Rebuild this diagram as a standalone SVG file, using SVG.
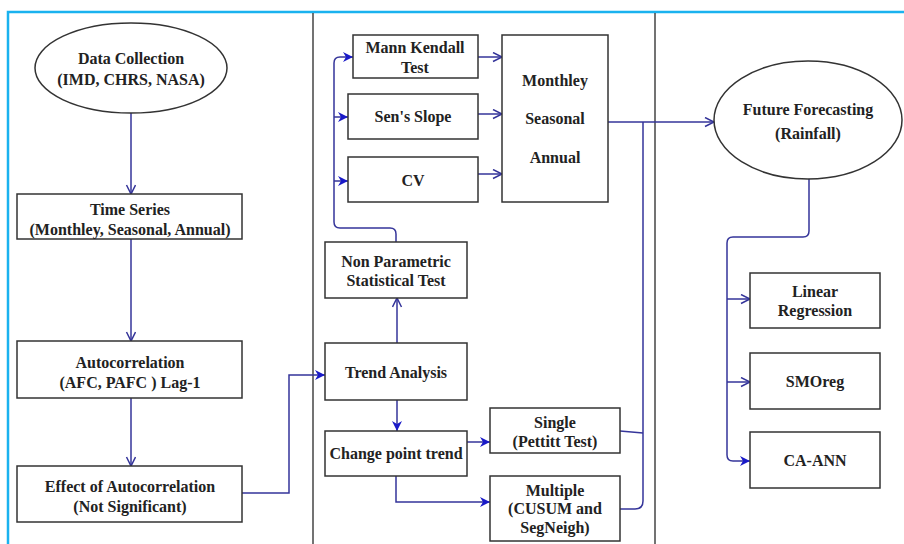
<svg xmlns="http://www.w3.org/2000/svg" width="904" height="544" viewBox="0 0 904 544">
<defs>
<style>
.n{fill:#fff;stroke:#333;stroke-width:1.5}
.t{font-family:"Liberation Serif","Times New Roman",serif;font-weight:bold;font-size:16px;fill:#222;text-anchor:middle}
.c{fill:none;stroke:#35359a;stroke-width:1.5}
.o{marker-end:url(#open)}
.f{marker-end:url(#fill)}
</style>
<marker id="open" markerUnits="userSpaceOnUse" markerWidth="12" markerHeight="12" refX="10" refY="5" orient="auto">
<path d="M1,0.5 L10,5 L1,9.5" fill="none" stroke="#35359a" stroke-width="1.5"/>
</marker>
<marker id="fill" markerUnits="userSpaceOnUse" markerWidth="12" markerHeight="12" refX="10" refY="5" orient="auto">
<path d="M0,0 L10,5 L0,10 L3,5 z" fill="#1a1ac8"/>
</marker>
</defs>
<rect width="904" height="544" fill="#fff"/>
<rect x="8" y="12" width="920" height="560" fill="none" stroke="#1ab2ef" stroke-width="2.5"/>
<line x1="313" y1="13" x2="313" y2="544" stroke="#444" stroke-width="1.5"/>
<line x1="655" y1="13" x2="655" y2="544" stroke="#444" stroke-width="1.5"/>

<g id="connectors">
<path class="c o" d="M131,113 V194"/>
<path class="c o" d="M131,239 V341"/>
<path class="c o" d="M131,398 V466"/>
<path class="c f" d="M242,493 H289 V375 H325"/>
<path class="c o" d="M397,343 V298"/>
<path class="c f" d="M396,242 V234 Q396,228 390,228 H340 Q334,228 334,222 V63 Q334,57 340,57 H353"/>
<path class="c f" d="M334,117 H348"/>
<path class="c f" d="M334,181 H348"/>
<path class="c o" d="M478,57 H502"/>
<path class="c o" d="M478,114 H502"/>
<path class="c o" d="M478,174 H502"/>
<path class="c o" d="M608,122 H714"/>
<path class="c" d="M620,509 H635 Q643,509 643,501 V122"/>
<path class="c" d="M620,431 L643,433"/>
<path class="c f" d="M397,400 V431"/>
<path class="c f" d="M467,442 H490"/>
<path class="c f" d="M396,476 V502 H490"/>
<path class="c f" d="M809,179 V231 Q809,237 803,237 H733 Q727,237 727,243 V455 Q727,461 733,461 H750"/>
<path class="c o" d="M727,299 H750"/>
<path class="c o" d="M727,382 H750"/>
</g>

<g id="data-collection">
<ellipse class="n" cx="131" cy="68" rx="96" ry="45"/>
<text class="t" x="131" y="64">Data Collection</text>
<text class="t" x="131" y="85">(IMD, CHRS, NASA)</text>
</g>
<g id="time-series">
<rect class="n" x="17" y="194" width="225" height="45"/>
<text class="t" x="130" y="215">Time Series</text>
<text class="t" x="130" y="235">(Monthley, Seasonal, Annual)</text>
</g>
<g id="autocorrelation">
<rect class="n" x="17" y="341" width="225" height="57"/>
<text class="t" x="130" y="368">Autocorrelation</text>
<text class="t" x="130" y="388">(AFC, PAFC ) Lag-1</text>
</g>
<g id="effect">
<rect class="n" x="17" y="466" width="225" height="56"/>
<text class="t" x="130" y="492">Effect of Autocorrelation</text>
<text class="t" x="130" y="512">(Not Significant)</text>
</g>
<g id="trend-analysis">
<rect class="n" x="325" y="343" width="142" height="57"/>
<text class="t" x="396" y="378">Trend Analysis</text>
</g>
<g id="non-parametric">
<rect class="n" x="325" y="242" width="142" height="56"/>
<text class="t" x="396" y="267">Non Parametric</text>
<text class="t" x="396" y="286">Statistical Test</text>
</g>
<g id="mann-kendall">
<rect class="n" x="353" y="35" width="125" height="43"/>
<text class="t" x="415" y="53">Mann Kendall</text>
<text class="t" x="415" y="73">Test</text>
</g>
<g id="sens-slope">
<rect class="n" x="348" y="94" width="130" height="45"/>
<text class="t" x="413" y="122">Sen's Slope</text>
</g>
<g id="cv">
<rect class="n" x="348" y="157" width="130" height="45"/>
<text class="t" x="413" y="186">CV</text>
</g>
<g id="periods">
<rect class="n" x="502" y="35" width="106" height="167"/>
<text class="t" x="555" y="86">Monthley</text>
<text class="t" x="555" y="124">Seasonal</text>
<text class="t" x="555" y="163">Annual</text>
</g>
<g id="change-point">
<rect class="n" x="325" y="431" width="142" height="45"/>
<text class="t" x="396" y="459">Change point trend</text>
</g>
<g id="single">
<rect class="n" x="490" y="408" width="130" height="45"/>
<text class="t" x="555" y="428">Single</text>
<text class="t" x="555" y="447">(Pettitt Test)</text>
</g>
<g id="multiple">
<rect class="n" x="490" y="476" width="130" height="65"/>
<text class="t" x="555" y="496">Multiple</text>
<text class="t" x="555" y="514">(CUSUM and</text>
<text class="t" x="555" y="533">SegNeigh)</text>
</g>
<g id="future-forecasting">
<ellipse class="n" cx="808" cy="120" rx="94" ry="59"/>
<text class="t" x="808" y="115">Future Forecasting</text>
<text class="t" x="808" y="139">(Rainfall)</text>
</g>
<g id="linear-regression">
<rect class="n" x="750" y="273" width="130" height="55"/>
<text class="t" x="815" y="297">Linear</text>
<text class="t" x="815" y="316">Regression</text>
</g>
<g id="smoreg">
<rect class="n" x="750" y="353" width="130" height="56"/>
<text class="t" x="815" y="387">SMOreg</text>
</g>
<g id="ca-ann">
<rect class="n" x="750" y="432" width="130" height="56"/>
<text class="t" x="815" y="466">CA-ANN</text>
</g>
</svg>
